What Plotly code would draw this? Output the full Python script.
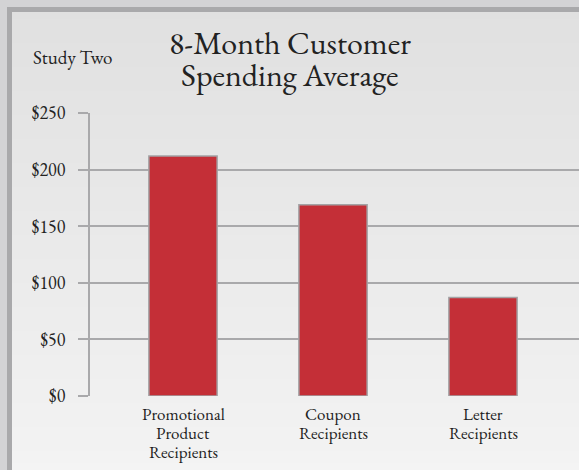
import plotly.graph_objects as go

categories = ["Promotional Product Recipients", "Coupon Recipients", "Letter Recipients"]
category_lines = [["Promotional", "Product", "Recipients"], ["Coupon", "Recipients"], ["Letter", "Recipients"]]
values = [212, 169, 87]
tick_vals = [0, 50, 100, 150, 200, 250]
tick_text = ["$0", "$50", "$100", "$150", "$200", "$250"]
title_lines = ["8-Month Customer", "Spending Average"]
subtitle = "Study Two"

SERIF = "EB Garamond, Garamond, Liberation Serif, Times New Roman, serif"
GRID = "#a9a9ab"
TXT = "#222222"

W, H = 579, 470
ml, mt, mb = 90, 113, 74

def xp(p):  # pixel x -> paper x
    return (p - ml) / (W - ml)
def yp(p):  # pixel y -> paper y
    return (H - mb - p) / (H - mt - mb)

fig = go.Figure()
fig.add_trace(go.Bar(
    x=categories, y=values,
    width=0.455,
    marker=dict(color="#c42f37", line=dict(color="#a3a3a5", width=1.5)),
    hoverinfo="skip",
))

shapes = []
n = 40
for i in range(n):
    c = int(224 + (244 - 224) * (i / (n - 1)))
    y1 = yp(-5 + i * (H + 10) / n)
    y0 = yp(-5 + (i + 1) * (H + 10) / n)
    shapes.append(dict(type="rect", xref="paper", yref="paper",
                       x0=xp(-5), x1=xp(W + 5), y0=y0, y1=y1,
                       fillcolor=f"rgb({c},{c},{c})", line=dict(width=0), layer="below"))

frame = [
    dict(type="rect", xref="paper", yref="paper", x0=xp(-5), x1=xp(W + 5), y0=yp(7), y1=yp(-5),
         fillcolor="#d3d3d5", line=dict(width=0), layer="below"),
    dict(type="rect", xref="paper", yref="paper", x0=xp(-5), x1=xp(7), y0=yp(H + 5), y1=yp(-5),
         fillcolor="#d3d3d5", line=dict(width=0), layer="below"),
    dict(type="rect", xref="paper", yref="paper", x0=xp(7), x1=xp(W + 5), y0=yp(12), y1=yp(7),
         fillcolor="#a9a9ab", line=dict(width=0), layer="below"),
    dict(type="rect", xref="paper", yref="paper", x0=xp(7), x1=xp(12), y0=yp(H + 5), y1=yp(7),
         fillcolor="#a9a9ab", line=dict(width=0), layer="below"),
]

fig.update_layout(
    width=W, height=H,
    margin=dict(l=ml, r=0, t=mt, b=mb),
    paper_bgcolor="#e9e9e9",
    plot_bgcolor="rgba(0,0,0,0)",
    showlegend=False,
    font=dict(family=SERIF, color=TXT),
    shapes=shapes + frame,
    xaxis=dict(
        range=[-0.62, 2.64],
        showgrid=False, zeroline=False, showline=False,
        ticks="", showticklabels=False,
        fixedrange=True,
    ),
    yaxis=dict(
        range=[0, 250],
        tickvals=tick_vals, ticktext=tick_text,
        showgrid=True, gridcolor=GRID, gridwidth=2,
        zeroline=False,
        showline=True, linecolor=GRID, linewidth=2,
        ticks="outside", ticklen=10, tickcolor=GRID, tickwidth=2,
        tickfont=dict(size=18, family=SERIF, color=TXT),
        ticklabelstandoff=9,
        fixedrange=True,
    ),
)

# category labels, line by line, placed on the category axis
for cat, lines in zip(categories, category_lines):
    for j, line in enumerate(lines):
        fig.add_annotation(text=line, xref="x", yref="paper", x=cat,
                           y=yp(427 + 18.8 * j), yanchor="bottom", xanchor="center",
                           showarrow=False, font=dict(size=17, family=SERIF, color=TXT))

for j, line in enumerate(title_lines):
    fig.add_annotation(text=line, xref="paper", yref="paper",
                       x=xp(290), y=yp(66 + 32 * j), xanchor="center", yanchor="bottom",
                       showarrow=False, font=dict(size=32, family=SERIF, color=TXT))
fig.add_annotation(text=subtitle, xref="paper", yref="paper",
                   x=xp(31), y=yp(72), xanchor="left", yanchor="bottom", showarrow=False,
                   font=dict(size=19, family=SERIF, color=TXT))

fig.write_html("out.html", config={"displayModeBar": False},
               post_script="document.body.style.margin='0';document.body.style.overflow='hidden';")
